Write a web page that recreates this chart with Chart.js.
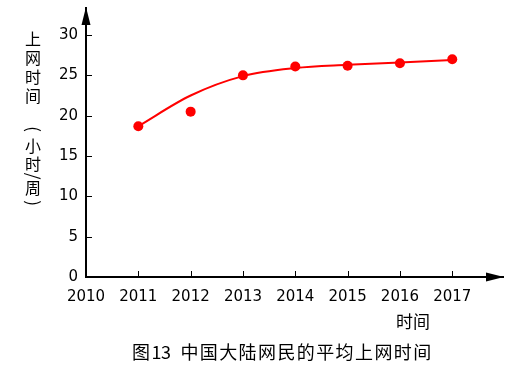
<!DOCTYPE html>
<html><head><meta charset="utf-8">
<script src="https://cdn.jsdelivr.net/npm/chart.js@4/dist/chart.umd.min.js"></script>
<style>html,body{margin:0;padding:0;background:#fff;}#wrap{width:521px;height:374px;position:relative;}</style>
</head><body><div id="wrap"><canvas id="c" width="521" height="374"></canvas></div>
<script>
const years = [2011, 2012, 2013, 2014, 2015, 2016, 2017];
const hours = [18.7, 20.5, 25.0, 26.1, 26.2, 26.5, 27.0];
const trend = [18.7, 22.5, 24.9, 25.9, 26.3, 26.6, 26.9];
const yTitleChars = ['上','网','时','间','(','小','时','/','周',')'];
const xTitle = '时间';
const caption = '图13 中国大陆网民的平均上网时间';

const CJK = '"Noto Sans CJK SC"';

const deco = {
  id: 'deco',
  afterDraw(chart) {
    const ctx = chart.ctx, xs = chart.scales.x, ys = chart.scales.y;
    const x0 = xs.left, y0 = ys.bottom;
    ctx.save();
    ctx.strokeStyle = '#000'; ctx.fillStyle = '#000'; ctx.lineWidth = 1;
    ctx.beginPath();
    years.forEach(v => { const px = Math.round(xs.getPixelForValue(v)) + 0.5; ctx.moveTo(px, y0); ctx.lineTo(px, y0 - 6); });
    ys.ticks.forEach(t => { if (t.value > 0) { const py = Math.round(ys.getPixelForValue(t.value)) + 0.5; ctx.moveTo(x0, py); ctx.lineTo(x0 + 6, py); } });
    ctx.stroke();
    ctx.beginPath(); ctx.moveTo(x0, ys.top - 1); ctx.lineTo(x0 - 4.5, ys.top + 17); ctx.lineTo(x0 + 4.5, ys.top + 17); ctx.closePath(); ctx.fill();
    ctx.beginPath(); ctx.moveTo(xs.right + 1, y0); ctx.lineTo(xs.right - 17, y0 - 4.5); ctx.lineTo(xs.right - 17, y0 + 4.5); ctx.closePath(); ctx.fill();
    ctx.font = '16px ' + CJK; ctx.textAlign = 'center'; ctx.textBaseline = 'middle';
    const yPos = [39, 58, 77, 96, 129, 146, 164, 176, 188, 203];
    yTitleChars.forEach((ch, i) => {
      if (ch === '/' || ch === '(' || ch === ')') {
        ctx.save(); ctx.translate(33, yPos[i]); ctx.rotate(Math.PI / 2); ctx.font = '17px ' + CJK; ctx.fillText(ch, 0, 0); ctx.restore();
      } else ctx.fillText(ch, 33, yPos[i]);
    });
    ctx.font = '17px ' + CJK; ctx.textAlign = 'left';
    ctx.fillText(xTitle, 396, 322);
    ctx.font = '18px ' + CJK;
    let cx = 132;
    for (const ch of caption) {
      if (ch === ' ') { cx += 10; continue; }
      if (/[0-9]/.test(ch)) { ctx.fillText(ch, cx, 352); cx += 9.5; continue; }
      ctx.fillText(ch, cx, 352); cx += 19.4;
    }
    ctx.restore();
  }
};

new Chart(document.getElementById('c'), {
  type: 'line',
  data: {
    datasets: [
      { data: years.map((y, i) => ({ x: y, y: trend[i] })), borderColor: '#ff0000', borderWidth: 2, pointRadius: 0, cubicInterpolationMode: 'monotone', fill: false, order: 2 },
      { data: years.map((y, i) => ({ x: y, y: hours[i] })), showLine: false, pointRadius: 5, pointBackgroundColor: '#ff0000', pointBorderColor: '#ff0000', pointBorderWidth: 0, order: 1 }
    ]
  },
  options: {
    responsive: false, animation: false,
    layout: { padding: { left: 0, right: 18, top: 8, bottom: 0 } },
    plugins: { legend: { display: false }, tooltip: { enabled: false } },
    scales: {
      x: {
        type: 'linear', min: 2010, max: 2017.97,
        afterFit(s) { s.height = 97; s.paddingLeft = 0; s.paddingRight = 0; },
        grid: { display: true, drawOnChartArea: false, drawTicks: false },
        border: { display: true, color: '#000', width: 2 },
        ticks: { stepSize: 1, includeBounds: false, padding: 11, color: '#000', font: { family: 'DejaVu Sans', size: 15 }, maxRotation: 0, autoSkip: false, callback: v => String(v) }
      },
      y: {
        min: 0, max: 33.35,
        afterFit(s) { s.width = 86; s.paddingTop = 0; s.paddingBottom = 0; },
        afterBuildTicks(s) { s.ticks = s.ticks.filter(t => t.value <= 30); },
        grid: { display: true, drawOnChartArea: false, drawTicks: false },
        border: { display: true, color: '#000', width: 2 },
        ticks: { stepSize: 5, includeBounds: false, padding: 8, color: '#000', font: { family: 'DejaVu Sans', size: 15 }, callback: v => String(v) }
      }
    }
  },
  plugins: [deco]
});
</script></body></html>
